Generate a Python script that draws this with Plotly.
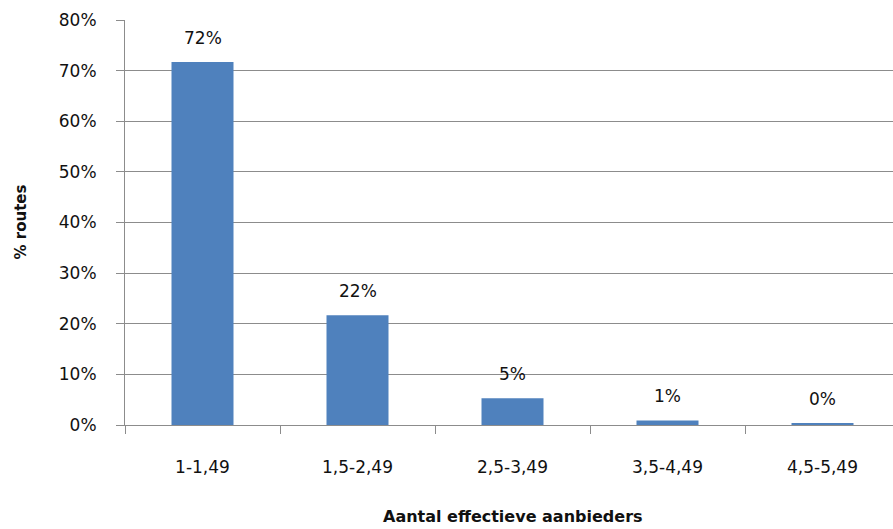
import plotly.graph_objects as go

# Share of routes by number of effective providers
categories = ["1-1,49", "1,5-2,49", "2,5-3,49", "3,5-4,49", "4,5-5,49"]
shares = [0.717, 0.217, 0.053, 0.009, 0.004]
y_ticks = [0, 0.1, 0.2, 0.3, 0.4, 0.5, 0.6, 0.7, 0.8]

FONT = "DejaVu Sans"
GRID = "#8c8c8c"
TEXT = "#111111"

fig = go.Figure()
fig.add_trace(go.Bar(
    x=categories,
    y=shares,
    width=0.4,
    marker=dict(color="#4F81BD", line=dict(width=0)),
    hoverinfo="skip",
))

annotations = []
for cat, v in zip(categories, shares):
    annotations.append(dict(
        x=cat, y=v, xref="x", yref="y",
        text=f"{round(v * 100):d}%",
        showarrow=False, yanchor="middle", yshift=24,
        font=dict(family=FONT, size=17, color=TEXT),
    ))

# Axis titles
annotations.append(dict(
    x=categories[2], xref="x", y=0, yref="paper",
    text="<b>Aantal effectieve aanbieders</b>",
    showarrow=False, xanchor="center", yanchor="middle", yshift=-91,
    font=dict(family=FONT, size=16, color=TEXT),
))
annotations.append(dict(
    x=0, xref="paper", y=0.5, yref="paper",
    text="<b>% routes</b>", textangle=-90,
    showarrow=False, xanchor="center", yanchor="middle", xshift=-105,
    font=dict(family=FONT, size=15, color=TEXT),
))

fig.update_layout(
    width=893, height=529,
    margin=dict(l=125, r=0, t=20, b=104),
    paper_bgcolor="white", plot_bgcolor="white",
    showlegend=False,
    annotations=annotations,
    font=dict(family=FONT, size=17, color=TEXT),
)

fig.update_xaxes(
    type="category",
    range=[-0.5, 4.5 - 7 / 155],
    tickson="boundaries",
    ticks="outside", ticklen=8, tickcolor=GRID, tickwidth=1,
    ticklabelstandoff=27,
    showline=True, linecolor=GRID, linewidth=1,
    showgrid=False, zeroline=False,
    tickfont=dict(family=FONT, size=17, color=TEXT),
)

fig.update_yaxes(
    range=[0, 0.8],
    tickmode="array",
    tickvals=y_ticks,
    ticktext=[f"{round(t * 100)}%" for t in y_ticks],
    ticks="outside", ticklen=8, tickcolor=GRID, tickwidth=1,
    ticklabelstandoff=16,
    showline=True, linecolor=GRID, linewidth=1,
    showgrid=True, gridcolor=GRID, gridwidth=1,
    zeroline=False,
    tickfont=dict(family=FONT, size=17, color=TEXT),
)

fig.write_html("out.html")
